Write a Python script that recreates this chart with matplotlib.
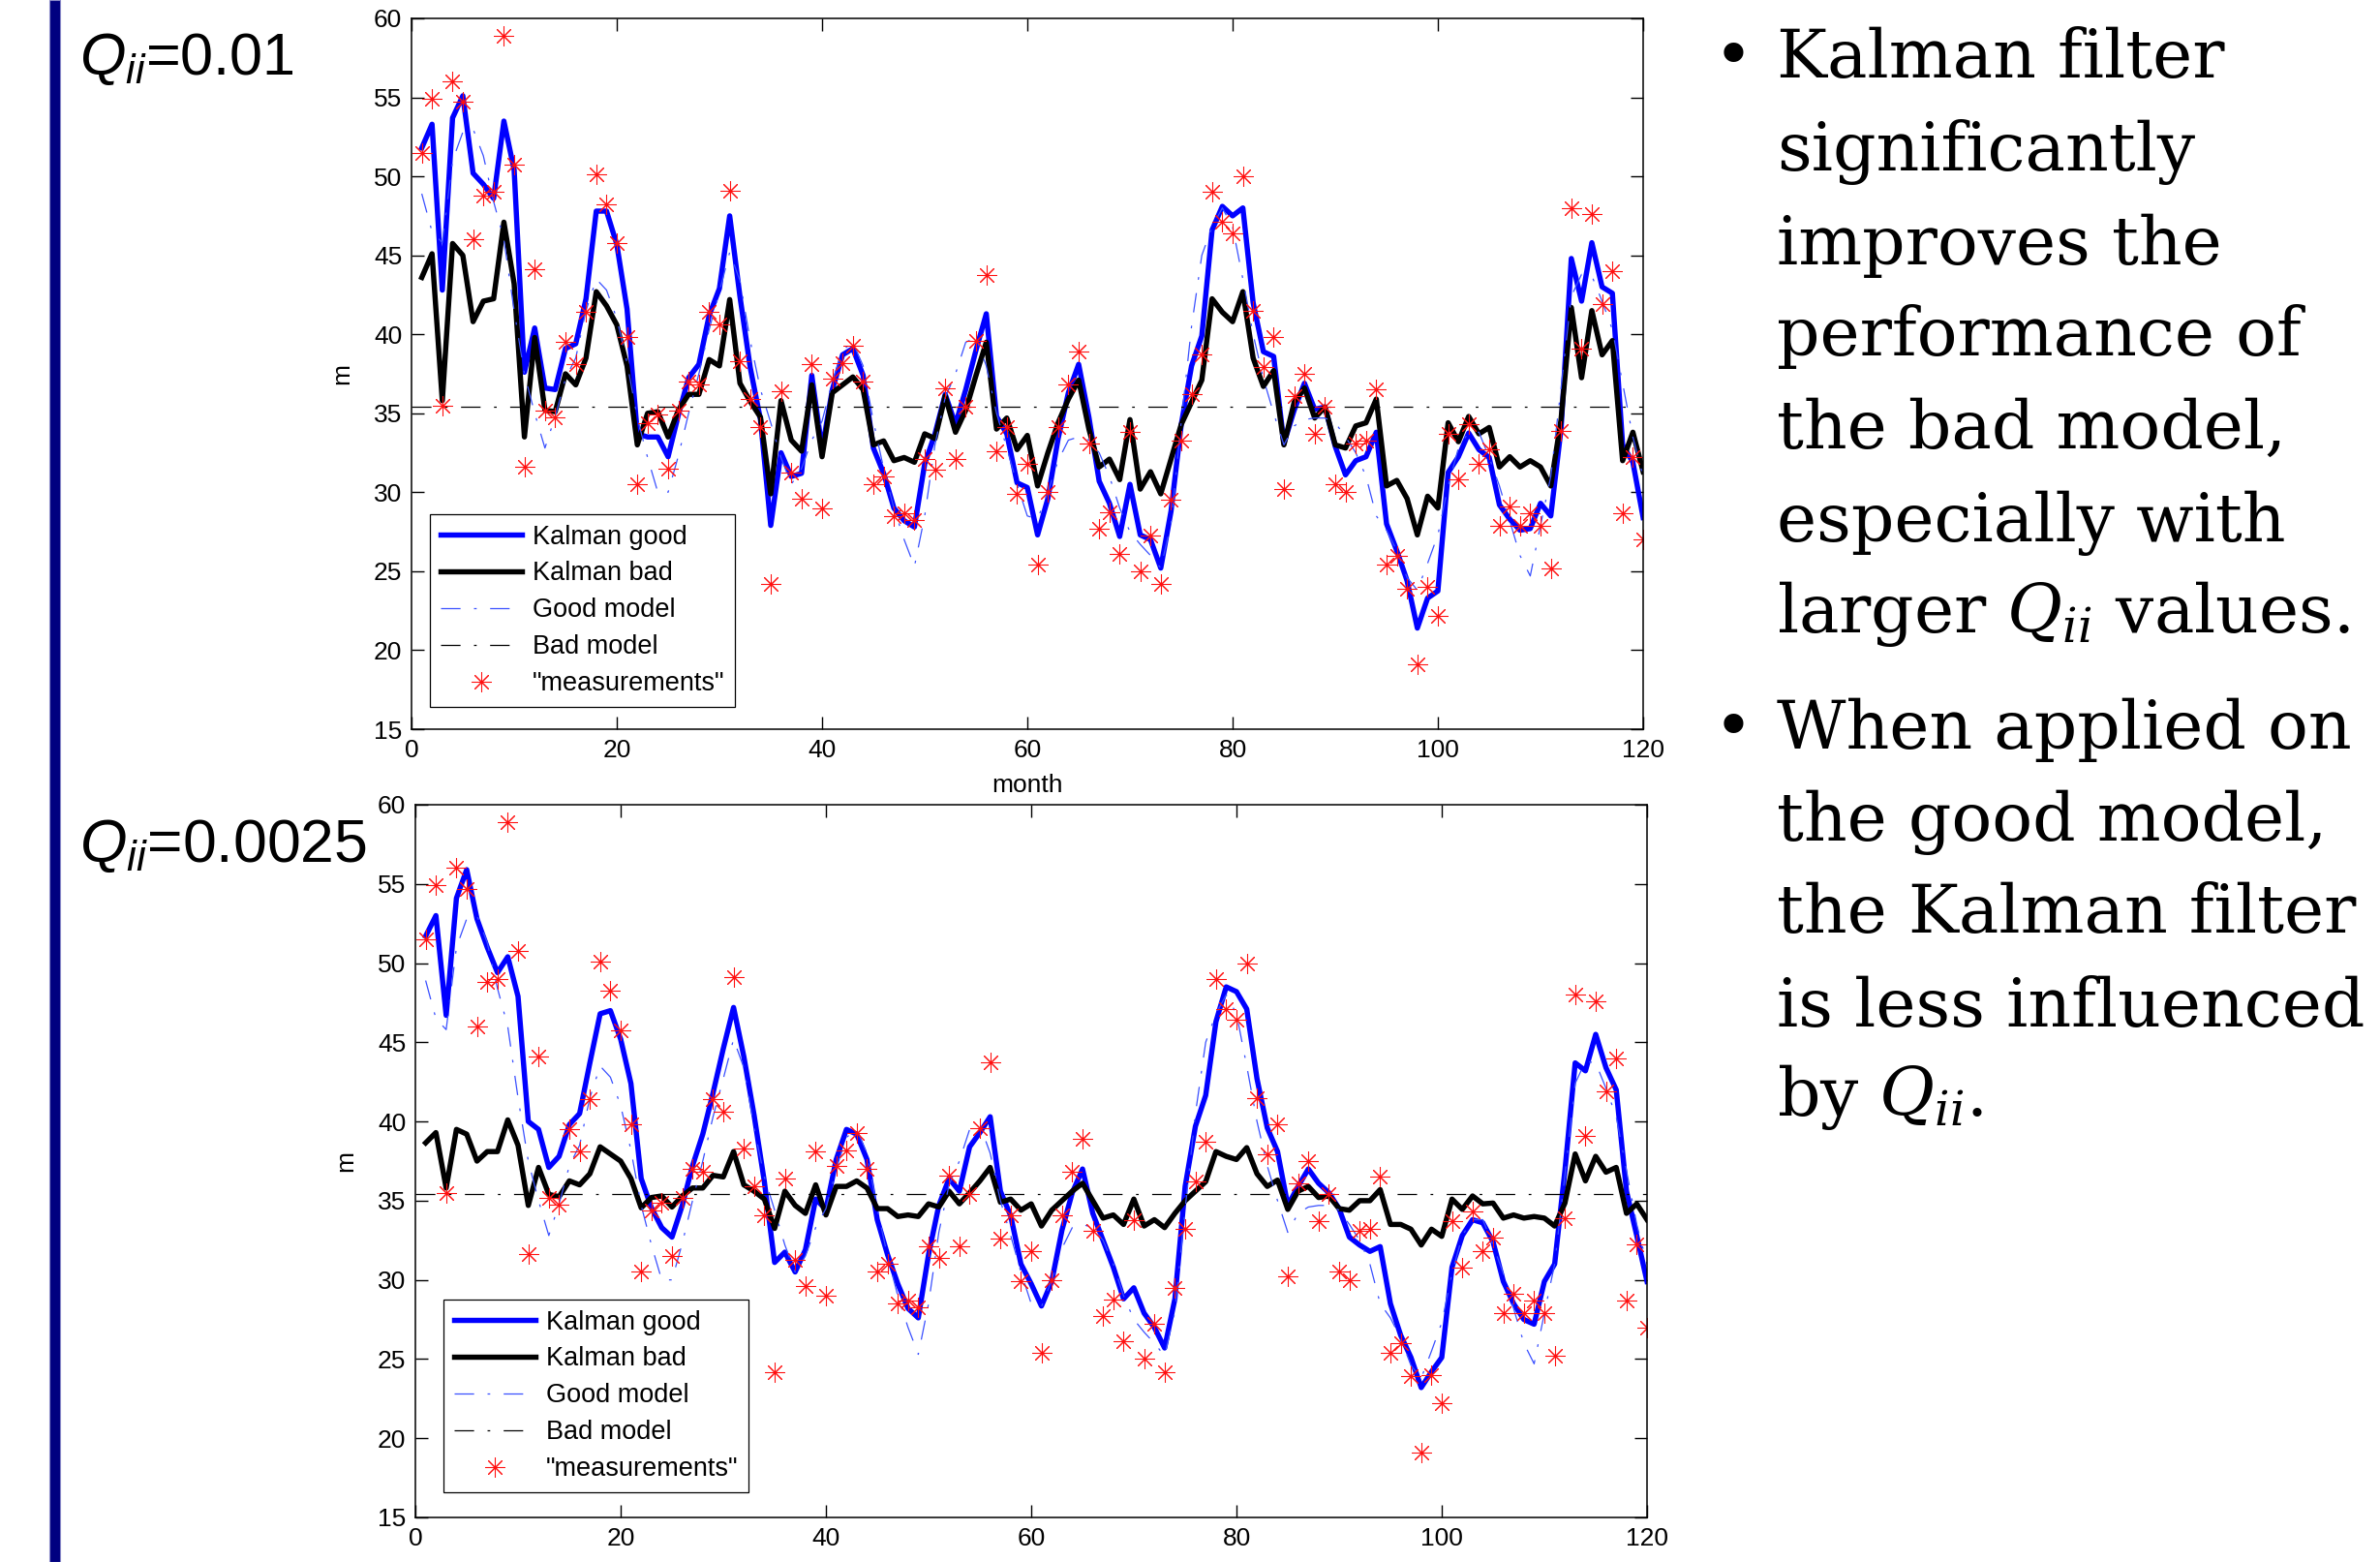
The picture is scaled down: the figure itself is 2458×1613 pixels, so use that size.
"""Kalman filter on a good and a bad model: two Q_ii settings, with the slide text alongside."""
import numpy as np
import matplotlib
matplotlib.use("Agg")
import matplotlib.pyplot as plt
from matplotlib.patches import Rectangle

W, H, DPI = 2458, 1613, 100

# --- data (month 1..120) ----------------------------------------------------------
months = np.arange(1, 121)
measurements = [
    51.5, 54.9, 35.5, 56.0, 54.7, 46.0, 48.8, 49.0, 58.9, 50.75,
    31.6, 44.1, 35.2, 34.75, 39.5, 38.1, 41.4, 50.1, 48.25, 45.75,
    39.8, 30.5, 34.4, 34.9, 31.5, 35.2, 37.0, 36.8, 41.4, 40.6,
    49.1, 38.3, 35.9, 34.1, 24.2, 36.4, 31.25, 29.6, 38.1, 29.0,
    37.2, 38.2, 39.3, 37.0, 30.5, 31.0, 28.5, 28.7, 28.25, 32.1,
    31.4, 36.6, 32.1, 35.4, 39.6, 43.75, 32.6, 34.1, 29.9, 31.8,
    25.4, 30.0, 34.1, 36.8, 38.9, 33.1, 27.7, 28.75, 26.1, 33.8,
    25.0, 27.25, 24.2, 29.5, 33.25, 36.2, 38.75, 49.0, 47.1, 46.4,
    50.0, 41.5, 37.9, 39.8, 30.2, 36.1, 37.5, 33.7, 35.4, 30.5,
    30.0, 33.1, 33.25, 36.5, 25.4, 26.0, 23.9, 19.1, 24.0, 22.2,
    33.7, 30.8, 34.3, 31.8, 32.7, 27.9, 29.1, 27.9, 28.7, 27.9,
    25.2, 33.9, 48.0, 39.1, 47.6, 41.9, 44.0, 28.7, 32.25, 27.0,
]
good_model = [
    48.9, 46.5, 45.8, 51.0, 52.8, 53.0, 51.3, 48.4, 46.0, 41.5,
    37.5, 35.0, 32.8, 34.8, 37.2, 38.5, 41.5, 43.5, 42.8, 41.0,
    38.2, 34.7, 32.2, 30.0, 30.0, 32.3, 35.0, 37.5, 40.3, 42.7,
    45.2, 43.4, 39.6, 36.5, 34.4, 32.2, 30.5, 31.5, 33.3, 34.5,
    37.0, 39.0, 39.5, 38.0, 34.5, 31.5, 29.0, 27.0, 25.3, 28.5,
    33.0, 36.0, 37.5, 39.5, 39.8, 38.0, 35.0, 32.8, 30.5, 28.5,
    28.3, 30.0, 32.0, 33.3, 33.5, 33.3, 32.5, 31.0, 29.0, 27.5,
    26.7, 26.0, 25.2, 28.0, 34.5, 40.5, 45.0, 46.8, 48.0, 46.8,
    43.5, 40.0, 37.2, 35.0, 33.0, 34.2, 34.6, 34.7, 34.7, 34.4,
    33.5, 32.5, 31.0, 28.5, 27.6, 26.3, 24.6, 23.8, 25.5, 27.3,
    30.4, 32.8, 33.8, 33.8, 32.2, 30.4, 28.2, 26.0, 24.7, 27.9,
    31.0, 36.6, 42.4, 43.8, 43.7, 42.1, 40.3, 36.9, 33.5, 31.0,
]
bad_model = 35.4

# Q_ii = 0.01
kalman_good_q1 = [
    51.8, 53.3, 42.8, 53.7, 55.1, 50.2, 49.5, 48.6, 53.5, 50.4,
    37.6, 40.4, 36.6, 36.5, 39.1, 39.4, 42.25, 47.8, 47.8, 45.7,
    41.6, 33.7, 33.5, 33.5, 32.25, 34.9, 37.25, 38.1, 41.2, 42.9,
    47.5, 42.4, 37.9, 34.6, 27.9, 32.5, 31.0, 31.2, 37.4, 32.7,
    36.5, 38.7, 39.1, 37.4, 32.8, 31.2, 29.0, 28.2, 27.8, 31.8,
    33.7, 36.2, 34.3, 36.5, 39.0, 41.3, 34.8, 33.7, 30.6, 30.3,
    27.3, 29.6, 33.4, 36.3, 38.1, 34.75, 30.7, 29.3, 27.2, 30.5,
    27.3, 27.0, 25.2, 28.8, 34.3, 38.0, 39.9, 46.6, 48.1, 47.5,
    48.0, 42.0, 38.9, 38.6, 33.1, 35.2, 36.9, 35.25, 35.4, 32.9,
    31.1, 32.0, 32.25, 33.8, 28.0, 26.3, 24.4, 21.4, 23.3, 23.75,
    31.25, 32.25, 33.75, 32.7, 32.2, 29.2, 28.3, 27.6, 27.7, 29.3,
    28.5, 34.0, 44.8, 42.1, 45.8, 43.0, 42.6, 33.0, 31.9, 28.4,
]
kalman_bad_q1 = [
    43.6, 45.1, 35.8, 45.75, 45.0, 40.8, 42.1, 42.25, 47.1, 43.2,
    33.5, 39.8, 35.2, 35.1, 37.5, 36.8, 38.5, 42.7, 41.8, 40.6,
    38.0, 33.0, 35.0, 35.1, 33.5, 35.2, 36.2, 36.2, 38.4, 38.0,
    42.2, 36.9, 35.75, 34.75, 29.9, 35.8, 33.3, 32.6, 36.8, 32.25,
    36.3, 36.8, 37.3, 36.5, 33.0, 33.25, 32.0, 32.2, 31.9, 33.7,
    33.4, 36.1, 33.8, 35.2, 37.4, 39.5, 34.0, 34.7, 32.7, 33.6,
    30.4, 32.5, 34.4, 35.9, 37.1, 34.0, 31.6, 32.1, 30.8, 34.6,
    30.2, 31.3, 29.9, 32.1, 34.3, 35.7, 37.1, 42.25, 41.4, 40.8,
    42.7, 38.5, 36.7, 37.7, 33.0, 35.7, 36.6, 34.7, 35.4, 33.0,
    32.8, 34.2, 34.4, 35.9, 30.4, 30.75, 29.6, 27.3, 29.75, 29.0,
    34.4, 33.2, 34.8, 33.7, 34.1, 31.6, 32.25, 31.6, 32.0, 31.6,
    30.4, 34.6, 41.7, 37.25, 41.5, 38.7, 39.6, 32.0, 33.8, 31.3,
]
# Q_ii = 0.0025
kalman_good_q2 = [
    51.7, 53.0, 46.7, 54.1, 55.9, 52.8, 51.0, 49.4, 50.4, 47.9,
    40.0, 39.5, 37.1, 37.8, 39.8, 40.5, 43.7, 46.8, 47.0, 45.2,
    42.4, 36.4, 34.55, 33.3, 32.7, 34.7, 37.2, 39.2, 41.8, 44.6,
    47.2, 44.1, 40.4, 36.2, 31.1, 31.75, 30.5, 31.9, 35.1, 34.45,
    37.6, 39.5, 39.2, 37.6, 33.8, 31.6, 29.75, 28.2, 27.6, 31.6,
    34.7, 36.4, 35.6, 38.4, 39.3, 40.3, 35.6, 34.05, 31.0, 29.75,
    28.35, 29.9, 33.15, 35.5, 37.0, 34.2, 32.5, 30.8, 28.8, 29.5,
    27.9, 27.0, 25.7, 28.8, 35.9, 39.7, 41.65, 46.3, 48.5, 48.2,
    47.1, 42.7, 39.6, 38.1, 34.7, 35.9, 37.0, 36.1, 35.5, 34.5,
    32.7, 32.2, 31.8, 32.1, 28.5, 26.5, 25.1, 23.2, 24.2, 25.1,
    30.8, 32.8, 33.8, 33.6, 32.4, 29.9, 28.5, 27.5, 27.2, 29.9,
    31.0, 36.9, 43.7, 43.2, 45.5, 43.4, 42.0, 35.6, 32.8, 29.9,
]
kalman_bad_q2 = [
    38.65, 39.3, 35.8, 39.5, 39.2, 37.5, 38.1, 38.1, 40.1, 38.5,
    34.7, 37.1, 35.4, 35.25, 36.25, 36.0, 36.7, 38.4, 37.95, 37.5,
    36.4, 34.55, 35.2, 35.3, 34.6, 35.3, 35.8, 35.8, 36.6, 36.5,
    38.1, 36.0, 35.6, 35.1, 33.25, 35.6, 34.7, 34.2, 36.0, 34.1,
    35.9, 35.9, 36.25, 35.8, 34.5, 34.5, 34.0, 34.1, 34.0, 34.8,
    34.6, 35.6, 34.8, 35.5, 36.25, 37.1, 34.9, 35.1, 34.4, 34.8,
    33.4, 34.4, 35.0, 35.6, 36.1, 35.0, 33.9, 34.1, 33.5, 35.1,
    33.4, 33.8, 33.3, 34.2, 35.0, 35.6, 36.2, 38.1, 37.8, 37.6,
    38.35, 36.7, 35.9, 36.3, 34.45, 35.6, 35.9, 35.2, 35.3, 34.5,
    34.4, 35.0, 35.0, 35.7, 33.5, 33.5, 33.2, 32.2, 33.2, 32.75,
    35.1, 34.45, 35.3, 34.8, 34.85, 33.9, 34.1, 33.9, 34.0, 33.9,
    33.4, 34.85, 37.95, 36.25, 37.8, 36.8, 37.1, 34.2, 34.8, 33.8,
]

q_labels = [r"$Q_{ii}$=0.01", r"$Q_{ii}$=0.0025"]
bullets = [
    ["Kalman filter", "significantly", "improves the", "performance of",
     "the bad model,", "especially with", r"larger $Q_{ii}$ values."],
    ["When applied on", "the good model,", "the Kalman filter",
     "is less influenced", r"by $Q_{ii}$."],
]

BLUE, MODEL_BLUE, RED, NAVY = "#0000ff", "#3a50ff", "#ff1010", "#000080"
DASHDOT = (14.5, 10, 2, 10)   # MATLAB-style '-.' in points

plt.rcParams.update({
    "font.family": "Liberation Sans", "font.size": 19,
    "mathtext.fontset": "custom", "mathtext.rm": "Liberation Sans",
    "mathtext.it": "Liberation Sans:italic",
    "lines.scale_dashes": False, "axes.linewidth": 1.1,
    "xtick.direction": "in", "ytick.direction": "in",
    "xtick.top": True, "ytick.right": True,
    "xtick.major.size": 9.4, "ytick.major.size": 9.4,
    "xtick.major.width": 1.0, "ytick.major.width": 1.0,
    "xtick.major.pad": 7, "ytick.major.pad": 7,
    "legend.fancybox": False, "legend.framealpha": 1, "legend.edgecolor": "black",
})


def px_rect(x0, y0, x1, y1):
    return [x0 / W, 1 - y1 / H, (x1 - x0) / W, (y1 - y0) / H]


def panel(fig, rect, kgood, kbad, anchor, xlabel=False):
    ax = fig.add_axes(px_rect(*rect))
    ax.plot(months, kgood, color=BLUE, lw=3.9, label="Kalman good")
    ax.plot(months, kbad, color="black", lw=3.9, label="Kalman bad")
    ax.plot(months, good_model, color=MODEL_BLUE, lw=0.9, dashes=DASHDOT, label="Good model")
    ax.axhline(bad_model, color="black", lw=0.9, dashes=DASHDOT, label="Bad model")
    ax.plot(months, measurements, ls="none", marker=(8, 2, 0), ms=14.5, mew=0.75,
            color=RED, label='"measurements"')
    ax.set_xlim(0, 120); ax.set_ylim(15, 60)
    ax.set_xticks(range(0, 121, 20)); ax.set_yticks(range(15, 61, 5))
    ax.set_ylabel("m")
    ax.yaxis.set_label_coords(-0.047, 0.5)
    if xlabel:
        ax.set_xlabel("month")
        ax.xaxis.set_label_coords(0.5, -0.063)
    ax.legend(loc="lower left", bbox_to_anchor=anchor, borderaxespad=0, numpoints=1,
              handlelength=3.1, handletextpad=0.4, labelspacing=0.44, borderpad=0.4,
              fontsize=19.5)
    ax.get_legend().get_frame().set_linewidth(0.9)
    return ax


fig = plt.figure(figsize=(W / DPI, H / DPI), dpi=DPI)
fig.patch.set_facecolor("white")

# slide decoration: navy bar on the left edge
fig.add_artist(Rectangle((51 / W, 0), 11 / W, 1, transform=fig.transFigure,
                         facecolor=NAVY, edgecolor="#8a8ac8", lw=0.8))

panel(fig, (425, 19, 1697, 753), kalman_good_q1, kalman_bad_q1, (0.0149, 0.0313), xlabel=True)
panel(fig, (429, 831, 1701, 1567), kalman_good_q2, kalman_bad_q2, (0.0228, 0.0353))

for lab, base, size in zip(q_labels, [77, 890], [44, 45]):
    fig.text(82 / W, 1 - base / H, lab, fontsize=size, va="baseline", ha="left",
             math_fontfamily="custom")

# bullet text on the right
serif = dict(family="DejaVu Serif", fontsize=50, va="baseline", math_fontfamily="dejavuserif")
baselines = [[80, 176, 273, 367, 463, 559, 653], [773, 868, 963, 1060, 1152]]
for lines, bases in zip(bullets, baselines):
    fig.text(1790 / W, 1 - bases[0] / H, "\u2022", ha="center", **serif)
    for line, b in zip(lines, bases):
        fig.text(1835 / W, 1 - b / H, line, ha="left", **serif)

fig.savefig("out.png", dpi=DPI, facecolor="white")
